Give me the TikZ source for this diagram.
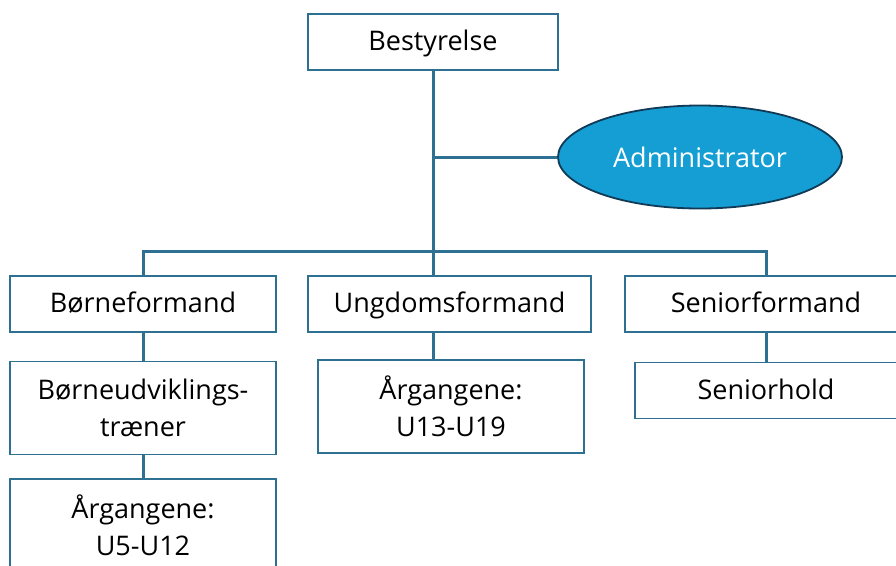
\documentclass[tikz,border=0pt]{standalone}
\usepackage{fontspec}
\setmainfont{Open Sans}
\usetikzlibrary{positioning,shapes.geometric}
\definecolor{orgline}{RGB}{46,112,145}
\definecolor{adminfill}{RGB}{20,158,212}
\definecolor{admindraw}{RGB}{16,58,86}
\begin{document}
\begin{tikzpicture}[x=1pt,y=1pt,node distance=28pt,
        card/.style={rectangle,draw=orgline,fill=white,line width=1.5pt,
          minimum width=266pt,align=center,inner sep=0pt,
          font=\fontsize{27}{37}\selectfont},
        box/.style={card,minimum height=56pt,text height=25pt,text depth=8pt},
        tallbox/.style={card,minimum height=93pt},
        admin/.style={ellipse,draw=admindraw,fill=adminfill,line width=1.8pt,
          minimum width=284pt,minimum height=103pt,inner sep=0pt,text=white,
          font=\fontsize{27}{37}\selectfont},
        conn/.style={draw=orgline,line width=3pt}]
        \useasboundingbox (0,0) rectangle (896,-565);
        % top
        \node[box,minimum width=250pt] (best) at (433,-42) {Bestyrelse};
        \node[admin] (adm) at (700,-157) {Administrator};
        % formaend
        \node[box] (bf) at (143,-304) {Børneformand};
        \node[box,minimum width=283pt] (uf) at (449.5,-304) {Ungdomsformand};
        \node[box,minimum width=282pt] (sf) at (766,-304) {Seniorformand};
        % hold
        \node[tallbox,below=28pt of bf] (bu) {Børneudviklings-\\træner};
        \node[tallbox,below=23pt of bu] (bu5) {Årgangene:\\U5-U12};
        \node[tallbox] (u13) at (451,-406.5) {Årgangene:\\U13-U19};
        \node[box,minimum width=262pt,below=29pt of sf] (sh) {Seniorhold};
        % connectors
        \draw[conn] (best.south) -- (best.south |- uf.north);
        \draw[conn] (adm.west) -- (adm.west -| best.south);
        \draw[conn] (bf.north) |- ([yshift=24pt]uf.north) -| (sf.north);
        \draw[conn] (bf) -- (bu);
        \draw[conn] (bu) -- (bu5);
        \draw[conn] (uf.south -| best.south) -- (u13.north -| best.south);
        \draw[conn] (sf) -- (sh);
      \end{tikzpicture}
\end{document}
